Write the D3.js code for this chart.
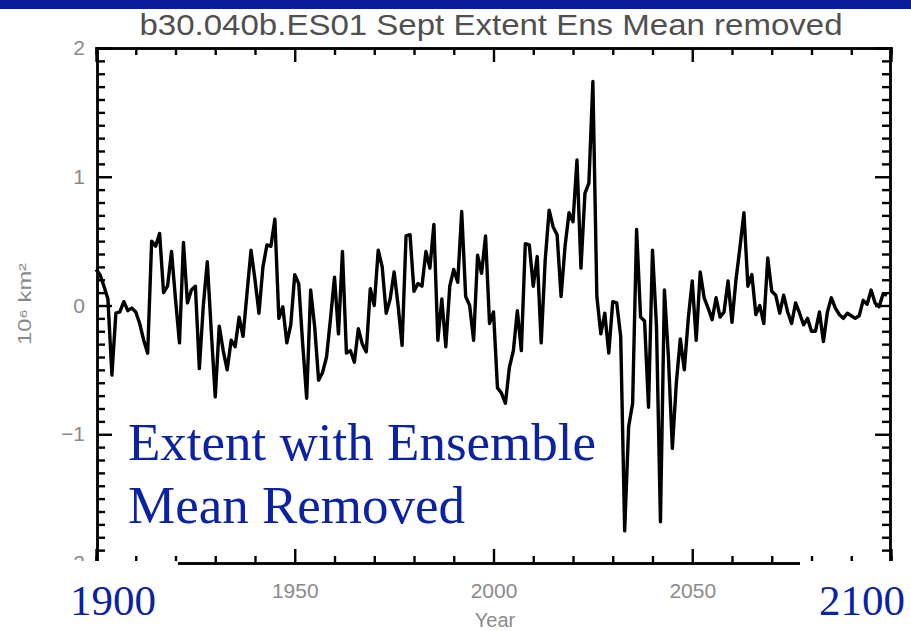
<!DOCTYPE html>
<html>
<head>
<meta charset="utf-8">
<script src="https://cdn.jsdelivr.net/npm/d3@7"></script>
<style>
  html, body { margin: 0; padding: 0; background: #fff; }
  svg { display: block; }
  .idl { font-family: "Liberation Sans", "DejaVu Sans", sans-serif; }
  .slide { font-family: "Liberation Serif", "Times New Roman", serif; fill: #0a22a3; }
</style>
</head>
<body>
<svg id="chart" width="911" height="631"></svg>
<script>
// Sept sea-ice extent anomaly (10^6 km^2), ensemble mean removed, one value per year
const startYear = 1900;
const extent1900s = [
  0.28, 0.24, 0.15, 0.05, -0.54, -0.06, -0.05, 0.03, -0.04, -0.02,
  -0.05, -0.14, -0.27, -0.37, 0.50, 0.46, 0.56, 0.10, 0.15, 0.42,
  0.05, -0.29, 0.49, 0.02, 0.12, 0.15, -0.49, 0.00, 0.34, -0.20,
  -0.71, -0.16, -0.35, -0.50, -0.27, -0.32, -0.09, -0.24, 0.10, 0.43,
  0.20, -0.06, 0.30, 0.47, 0.46, 0.67, -0.10, -0.01, -0.29, -0.15
];
const extent1950s = [
  0.24, 0.17, -0.30, -0.72, 0.12, -0.16, -0.58, -0.52, -0.40, -0.10,
  0.22, -0.22, 0.42, -0.37, -0.35, -0.44, -0.18, -0.30, -0.36, 0.13,
  0.00, 0.43, 0.30, -0.06, 0.05, 0.26, 0.00, -0.31, 0.54, 0.55,
  0.11, 0.17, 0.15, 0.42, 0.29, 0.63, -0.27, 0.05, -0.32, 0.15,
  0.28, 0.18, 0.73, 0.07, 0.00, -0.27, 0.39, 0.25, 0.54, -0.14
];
const extent2000s = [
  -0.05, -0.64, -0.68, -0.76, -0.48, -0.35, -0.04, -0.35, 0.48, 0.47,
  0.15, 0.38, -0.29, 0.35, 0.74, 0.61, 0.55, 0.07, 0.46, 0.72,
  0.65, 1.13, 0.29, 0.87, 0.95, 1.74, 0.07, -0.22, -0.06, -0.37,
  0.03, 0.02, -0.24, -1.75, -0.94, -0.76, 0.59, -0.09, -0.12, -0.79,
  0.43, -0.16, -1.68, 0.12, -0.40, -1.11, -0.60, -0.26, -0.50, -0.10
];
const extent2050s = [
  0.19, -0.27, 0.26, 0.06, -0.02, -0.11, 0.06, -0.09, -0.05, 0.19,
  -0.13, 0.20, 0.45, 0.72, 0.15, 0.24, -0.07, 0.00, -0.14, 0.37,
  0.11, 0.08, -0.06, 0.08, -0.05, -0.14, 0.02, -0.06, -0.15, -0.10,
  -0.20, -0.20, -0.05, -0.28, -0.05, 0.06, -0.02, -0.07, -0.10, -0.06,
  -0.08, -0.10, -0.08, 0.04, 0.01, 0.12, 0.02, -0.01, 0.09, 0.08
];

const yMajorTicks = [-2, -1, 0, 1, 2];
const yTickLabels = ["\u22122", "\u22121", "0", "1", "2"];
const xMajorTicks = [1950, 2000, 2050];
const xMinorTicks = [1910, 1920, 1930, 1940, 1960, 1970, 1980, 1990, 2010, 2020, 2030, 2040, 2060, 2070, 2080, 2090];
const titleText = "b30.040b.ES01  Sept Extent Ens Mean removed";
const calloutLines = ["Extent with Ensemble", "Mean Removed"];
const rangeLabels = ["1900", "2100"];

const values = [].concat(extent1900s, extent1950s, extent2000s, extent2050s);
const series = values.map((v, i) => ({ year: startYear + i, value: v }));

const svg = d3.select("#chart");

// top banner strip
svg.append("rect").attr("x", 0).attr("y", 0).attr("width", 911).attr("height", 9).attr("fill", "#0b1c9a");

const x = d3.scaleLinear().domain([1900, 2100]).range([96, 891]);
const y = d3.scaleLinear().domain([-2, 2]).range([563, 48]);
const yMinor = d3.range(-20, 21).map(d => d / 10).filter(d => !yMajorTicks.includes(d));

const frame = svg.append("g").attr("class", "idl");

function styleAxis(g) {
  g.select(".domain").attr("stroke", "#000").attr("stroke-width", 2.4);
  g.selectAll(".tick line").attr("stroke", "#000").attr("stroke-width", 2.4);
  g.selectAll(".tick text").attr("fill", "#8a8a8a").attr("font-size", 21)
    .attr("font-family", "Liberation Sans, DejaVu Sans, sans-serif");
}

// left axis: minor 0.1 ticks and labelled majors, ticks pointing in
frame.append("g").attr("transform", `translate(${x(1900) + 1},0)`)
  .call(d3.axisLeft(y).tickValues(yMinor).tickSize(-8).tickFormat(""))
  .call(styleAxis);
frame.append("g").attr("transform", `translate(${x(1900) + 1},0)`)
  .call(d3.axisLeft(y).tickValues(yMajorTicks).tickSize(-15).tickPadding(12)
    .tickFormat((d, i) => yTickLabels[i]))
  .call(styleAxis);

// right axis
frame.append("g").attr("transform", `translate(${x(2100) - 1},0)`)
  .call(d3.axisRight(y).tickValues(yMinor).tickSize(-8).tickFormat(""))
  .call(styleAxis);
frame.append("g").attr("transform", `translate(${x(2100) - 1},0)`)
  .call(d3.axisRight(y).tickValues(yMajorTicks).tickSize(-15).tickFormat(""))
  .call(styleAxis);

// top axis
frame.append("g").attr("transform", `translate(0,${y(2)})`)
  .call(d3.axisTop(x).tickValues(xMinorTicks).tickSize(-7).tickFormat(""))
  .call(styleAxis);
frame.append("g").attr("transform", `translate(0,${y(2)})`)
  .call(d3.axisTop(x).tickValues(xMajorTicks).tickSize(-14).tickFormat(""))
  .call(styleAxis);

// bottom axis
frame.append("g").attr("transform", `translate(0,${y(-2)})`)
  .call(d3.axisBottom(x).tickValues(xMinorTicks).tickSize(-7).tickFormat(""))
  .call(styleAxis);
frame.append("g").attr("transform", `translate(0,${y(-2)})`)
  .call(d3.axisBottom(x).tickValues(xMajorTicks).tickSize(-14).tickPadding(20).tickFormat(d3.format("d")))
  .call(styleAxis);

// anomaly time series
const line = d3.line().x(d => x(d.year)).y(d => y(d.value));
svg.append("path").datum(series)
  .attr("d", line)
  .attr("fill", "none")
  .attr("stroke", "#000")
  .attr("stroke-width", 3.4)
  .attr("stroke-linejoin", "round");

// title and axis titles
svg.append("text").attr("class", "idl")
  .attr("x", 491).attr("y", 35).attr("text-anchor", "middle")
  .attr("font-size", 30).attr("fill", "#505050")
  .attr("textLength", 703).attr("lengthAdjust", "spacingAndGlyphs")
  .text(titleText);

svg.append("text").attr("class", "idl")
  .attr("transform", "translate(31,304) rotate(-90)")
  .attr("text-anchor", "middle").attr("font-size", 18).attr("fill", "#8a8a8a")
  .attr("textLength", 82).attr("lengthAdjust", "spacingAndGlyphs")
  .text("10\u2076 km\u00b2");

svg.append("text").attr("class", "idl")
  .attr("x", 495).attr("y", 627).attr("text-anchor", "middle")
  .attr("font-size", 20).attr("fill", "#8a8a8a")
  .text("Year");

// white panels under the decade labels at each end of the time axis
svg.append("rect").attr("x", 0).attr("y", 561).attr("width", 178).attr("height", 70).attr("fill", "#fff");
svg.append("rect").attr("x", 800).attr("y", 561).attr("width", 111).attr("height", 70).attr("fill", "#fff");

svg.append("text").attr("class", "slide")
  .attr("x", 70).attr("y", 615).attr("font-size", 43).text(rangeLabels[0]);
svg.append("text").attr("class", "slide")
  .attr("x", 819).attr("y", 615).attr("font-size", 43).text(rangeLabels[1]);

// callout
svg.selectAll("text.callout").data(calloutLines).enter().append("text")
  .attr("class", "slide callout")
  .attr("x", 128).attr("y", (d, i) => 460 + i * 63)
  .attr("font-size", 53)
  .text(d => d);
</script>
</body>
</html>
